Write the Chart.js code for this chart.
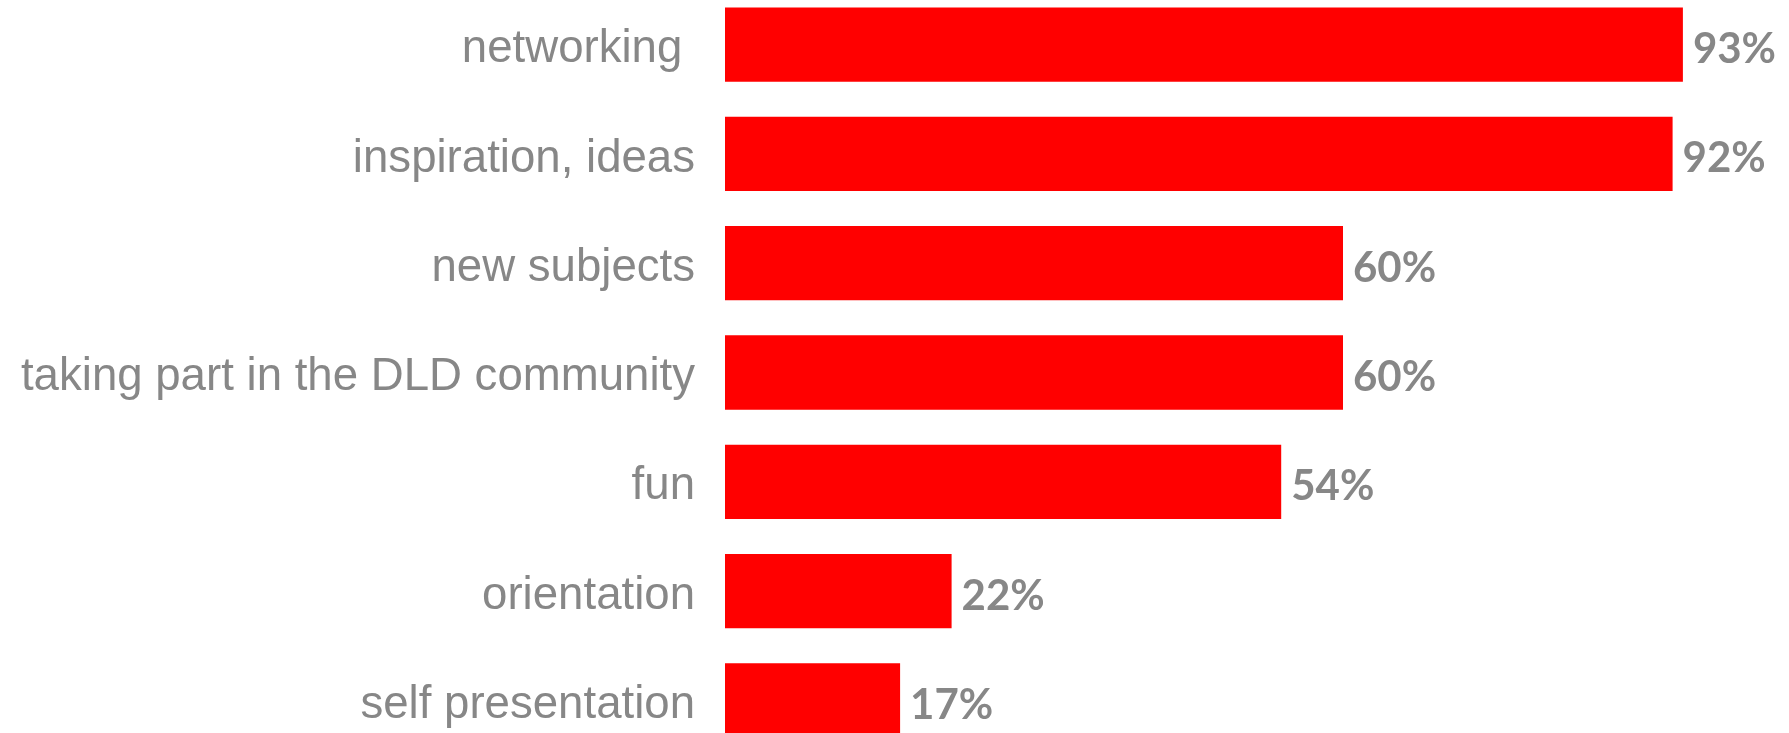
<!DOCTYPE html>
<html lang="en">

<head>
    <meta charset="UTF-8">
    <title>DLD reasons</title>
    <script src="https://cdn.jsdelivr.net/npm/chart.js"></script>
    <style>
        html, body { margin: 0; padding: 0; background: #fff; overflow: hidden; }
        #wrap { position: absolute; left: 0; top: -10px; width: 1789px; height: 765px; }
    </style>
</head>

<body>
    <div id="wrap">
        <canvas id="bar-chart"></canvas>
    </div>

    <script>
        const categories = ['networking ', 'inspiration, ideas', 'new subjects', 'taking part in the DLD community', 'fun', 'orientation', 'self presentation'];
        const shares = [93, 92, 60, 60, 54, 22, 17];

        const labelGray = '#878787';

        // writes "xx%" just past the end of every bar
        const valueLabels = {
            id: 'valueLabels',
            afterDatasetsDraw(chart) {
                const ctx = chart.ctx;
                const meta = chart.getDatasetMeta(0);
                ctx.save();
                ctx.font = 'bold 42px Lato';
                ctx.fillStyle = labelGray;
                ctx.textAlign = 'left';
                ctx.textBaseline = 'middle';
                meta.data.forEach((bar, i) => {
                    ctx.fillText(shares[i] + '%', bar.x + 10, bar.y + 5);
                });
                ctx.restore();
            }
        };

        new Chart(document.getElementById('bar-chart'), {
            type: 'bar',
            data: {
                labels: categories,
                datasets: [{
                    data: shares,
                    backgroundColor: '#ff0000',
                    borderWidth: 0,
                    barPercentage: 0.68,
                    categoryPercentage: 1
                }]
            },
            options: {
                indexAxis: 'y',
                responsive: true,
                maintainAspectRatio: false,
                animation: false,
                layout: { padding: { left: 0, right: 34, top: 0, bottom: 0 } },
                plugins: {
                    legend: { display: false },
                    tooltip: { enabled: false }
                },
                scales: {
                    x: {
                        display: false,
                        min: 0,
                        max: 100
                    },
                    y: {
                        grid: { display: false, drawTicks: false },
                        border: { display: false },
                        afterFit: function (scale) {
                            // fixed label column, no extra room above/below the bars
                            scale.width = 725;
                            scale.paddingTop = 0;
                            scale.paddingBottom = 0;
                        },
                        ticks: {
                            padding: 30,
                            labelOffset: 5,
                            color: labelGray,
                            font: { family: 'Liberation Sans', size: 45.6 }
                        }
                    }
                }
            },
            plugins: [valueLabels]
        });
    </script>
</body>

</html>
